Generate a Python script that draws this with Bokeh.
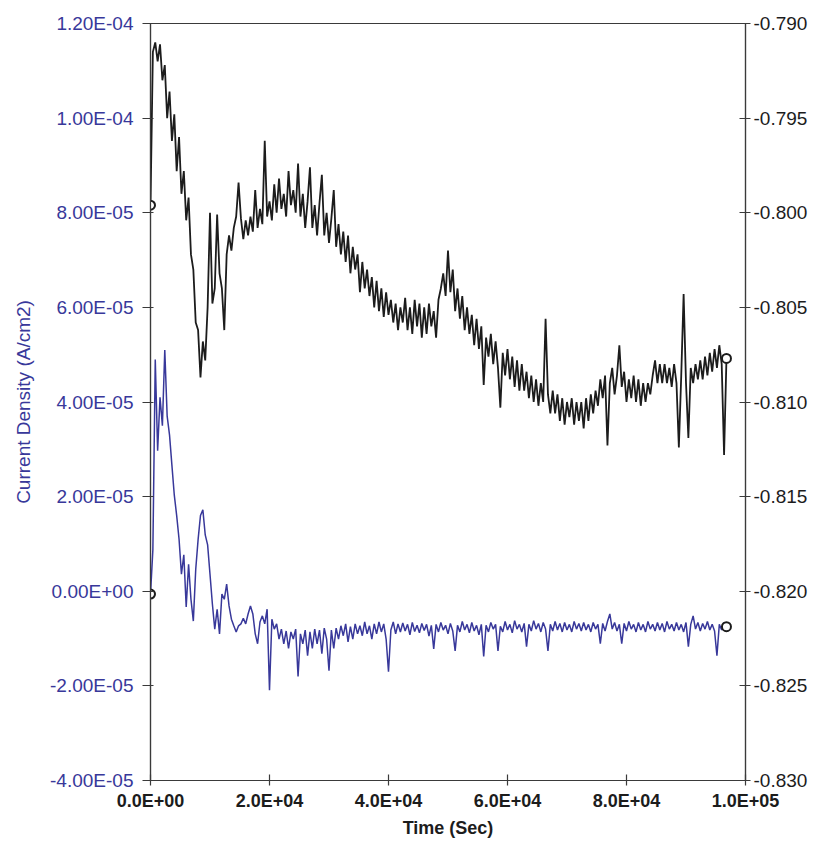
from bokeh.plotting import figure
from bokeh.models import Range1d, LinearAxis, FixedTicker
from bokeh.embed import file_html
from bokeh.resources import INLINE

# ---------------- data ----------------
time_s = [
    0, 400, 800, 1200, 1600, 2000, 2400, 2800, 3200, 3600,
    4000, 4400, 4800, 5200, 5600, 6000, 6400, 6800, 7200, 7600,
    8000, 8400, 8800, 9200, 9600, 10000, 10400, 10800, 11200, 11600,
    12000, 12400, 12800, 13200, 13600, 14000, 14400, 14800, 15200, 15600,
    16000, 16400, 16800, 17200, 17600, 18000, 18400, 18800, 19200, 19600,
    20000, 20400, 20800, 21200, 21600, 22000, 22400, 22800, 23200, 23600,
    24000, 24400, 24800, 25200, 25600, 26000, 26400, 26800, 27200, 27600,
    28000, 28400, 28800, 29200, 29600, 30000, 30400, 30800, 31200, 31600,
    32000, 32400, 32800, 33200, 33600, 34000, 34400, 34800, 35200, 35600,
    36000, 36400, 36800, 37200, 37600, 38000, 38400, 38800, 39200, 39600,
    40000, 40400, 40800, 41200, 41600, 42000, 42400, 42800, 43200, 43600,
    44000, 44400, 44800, 45200, 45600, 46000, 46400, 46800, 47200, 47600,
    48000, 48400, 48800, 49200, 49600, 50000, 50400, 50800, 51200, 51600,
    52000, 52400, 52800, 53200, 53600, 54000, 54400, 54800, 55200, 55600,
    56000, 56400, 56800, 57200, 57600, 58000, 58400, 58800, 59200, 59600,
    60000, 60400, 60800, 61200, 61600, 62000, 62400, 62800, 63200, 63600,
    64000, 64400, 64800, 65200, 65600, 66000, 66400, 66800, 67200, 67600,
    68000, 68400, 68800, 69200, 69600, 70000, 70400, 70800, 71200, 71600,
    72000, 72400, 72800, 73200, 73600, 74000, 74400, 74800, 75200, 75600,
    76000, 76400, 76800, 77200, 77600, 78000, 78400, 78800, 79200, 79600,
    80000, 80400, 80800, 81200, 81600, 82000, 82400, 82800, 83200, 83600,
    84000, 84400, 84800, 85200, 85600, 86000, 86400, 86800, 87200, 87600,
    88000, 88400, 88800, 89200, 89600, 90000, 90400, 90800, 91200, 91600,
    92000, 92400, 92800, 93200, 93600, 94000, 94400, 94800, 95200, 95600,
    96000, 96400, 96800,
]

# Potential (V), right axis
potential_v = [
    -0.7996, -0.7915, -0.7910, -0.7920, -0.7911, -0.7930, -0.7922, -0.7950, -0.7936, -0.7962,
    -0.7948, -0.7978, -0.7960, -0.7990, -0.7978, -0.8004, -0.7992, -0.8022, -0.8030, -0.8058,
    -0.8062, -0.8087, -0.8068, -0.8078, -0.8050, -0.8000, -0.8048, -0.8040, -0.8001, -0.8032,
    -0.8040, -0.8062, -0.8022, -0.8012, -0.8020, -0.8008, -0.8002, -0.7984, -0.8003, -0.8014,
    -0.8004, -0.8012, -0.8002, -0.8010, -0.7988, -0.8008, -0.7998, -0.8006, -0.7962, -0.8002,
    -0.7994, -0.8004, -0.7985, -0.8000, -0.7982, -0.7998, -0.7990, -0.8002, -0.7978, -0.7996,
    -0.7988, -0.8000, -0.7974, -0.8002, -0.7990, -0.8008, -0.7994, -0.7976, -0.8008, -0.7996,
    -0.8012, -0.7995, -0.7980, -0.8012, -0.8000, -0.8016, -0.8003, -0.7988, -0.8018, -0.8006,
    -0.8022, -0.8010, -0.8026, -0.8012, -0.8032, -0.8018, -0.8030, -0.8022, -0.8042, -0.8026,
    -0.8040, -0.8030, -0.8044, -0.8034, -0.8050, -0.8036, -0.8052, -0.8040, -0.8055, -0.8042,
    -0.8054, -0.8046, -0.8058, -0.8048, -0.8062, -0.8050, -0.8058, -0.8045, -0.8062, -0.8050,
    -0.8064, -0.8046, -0.8060, -0.8048, -0.8066, -0.8050, -0.8064, -0.8048, -0.8060, -0.8052,
    -0.8066, -0.8046, -0.8040, -0.8032, -0.8044, -0.8020, -0.8042, -0.8030, -0.8052, -0.8040,
    -0.8056, -0.8044, -0.8062, -0.8050, -0.8064, -0.8054, -0.8070, -0.8056, -0.8072, -0.8060,
    -0.8091, -0.8066, -0.8076, -0.8064, -0.8080, -0.8068, -0.8082, -0.8103, -0.8074, -0.8086,
    -0.8072, -0.8088, -0.8076, -0.8092, -0.8078, -0.8094, -0.8080, -0.8094, -0.8084, -0.8098,
    -0.8086, -0.8100, -0.8088, -0.8102, -0.8090, -0.8100, -0.8056, -0.8096, -0.8106, -0.8094,
    -0.8106, -0.8096, -0.8110, -0.8098, -0.8112, -0.8100, -0.8108, -0.8098, -0.8112, -0.8100,
    -0.8110, -0.8100, -0.8114, -0.8098, -0.8110, -0.8096, -0.8106, -0.8094, -0.8102, -0.8088,
    -0.8098, -0.8086, -0.8123, -0.8090, -0.8082, -0.8096, -0.8086, -0.8070, -0.8092, -0.8084,
    -0.8100, -0.8088, -0.8098, -0.8086, -0.8100, -0.8088, -0.8102, -0.8090, -0.8100, -0.8090,
    -0.8096, -0.8086, -0.8078, -0.8090, -0.8080, -0.8090, -0.8080, -0.8090, -0.8082, -0.8092,
    -0.8080, -0.8090, -0.8124, -0.8086, -0.8043, -0.8090, -0.8119, -0.8082, -0.8090, -0.8080,
    -0.8088, -0.8078, -0.8088, -0.8076, -0.8086, -0.8074, -0.8084, -0.8072, -0.8082, -0.8070,
    -0.8080, -0.8128, -0.8077,
]

# Current density (A/cm2), left axis
current_density = [
    -0.06e-5, 0.88e-5, 4.90e-5, 2.97e-5, 4.10e-5, 3.50e-5, 5.10e-5, 3.70e-5, 3.30e-5, 2.66e-5,
    2.03e-5, 1.60e-5, 1.10e-5, 0.36e-5, 0.77e-5, -0.33e-5, 0.57e-5, -0.17e-5, -0.63e-5, 0.46e-5,
    1.09e-5, 1.60e-5, 1.72e-5, 1.19e-5, 0.98e-5, 0.36e-5, -0.27e-5, -0.80e-5, -0.38e-5, -0.90e-5,
    -0.06e-5, -0.17e-5, 0.15e-5, -0.31e-5, -0.59e-5, -0.73e-5, -0.86e-5, -0.73e-5, -0.69e-5, -0.57e-5,
    -0.69e-5, -0.48e-5, -0.31e-5, -0.48e-5, -0.90e-5, -1.11e-5, -0.65e-5, -0.52e-5, -0.69e-5, -0.38e-5,
    -2.09e-5, -0.59e-5, -0.80e-5, -0.69e-5, -1.01e-5, -0.80e-5, -1.11e-5, -0.84e-5, -1.21e-5, -0.86e-5,
    -1.01e-5, -0.80e-5, -1.80e-5, -0.90e-5, -1.11e-5, -0.82e-5, -1.36e-5, -0.86e-5, -1.21e-5, -0.80e-5,
    -1.11e-5, -0.82e-5, -1.32e-5, -0.78e-5, -1.01e-5, -1.68e-5, -0.82e-5, -1.21e-5, -0.78e-5, -1.01e-5,
    -0.73e-5, -0.94e-5, -0.69e-5, -1.07e-5, -0.75e-5, -1.01e-5, -0.69e-5, -0.90e-5, -0.73e-5, -0.94e-5,
    -0.65e-5, -0.90e-5, -0.73e-5, -1.01e-5, -0.69e-5, -0.90e-5, -0.65e-5, -0.86e-5, -0.69e-5, -1.01e-5,
    -1.70e-5, -0.82e-5, -0.65e-5, -0.90e-5, -0.69e-5, -0.86e-5, -0.67e-5, -0.84e-5, -0.70e-5, -0.92e-5,
    -0.66e-5, -0.85e-5, -0.72e-5, -0.88e-5, -0.68e-5, -0.83e-5, -0.70e-5, -0.95e-5, -0.72e-5, -1.22e-5,
    -0.70e-5, -0.86e-5, -0.66e-5, -0.82e-5, -0.72e-5, -0.90e-5, -0.68e-5, -0.84e-5, -1.26e-5, -0.72e-5,
    -0.86e-5, -0.64e-5, -0.82e-5, -0.70e-5, -0.88e-5, -0.66e-5, -0.84e-5, -0.72e-5, -0.92e-5, -0.70e-5,
    -1.38e-5, -0.72e-5, -0.86e-5, -0.66e-5, -0.80e-5, -0.70e-5, -1.26e-5, -0.74e-5, -0.86e-5, -0.64e-5,
    -0.82e-5, -0.70e-5, -0.88e-5, -0.62e-5, -0.80e-5, -0.70e-5, -0.86e-5, -0.68e-5, -1.17e-5, -0.70e-5,
    -0.84e-5, -0.62e-5, -0.80e-5, -0.68e-5, -0.86e-5, -0.66e-5, -0.80e-5, -1.26e-5, -0.70e-5, -0.84e-5,
    -0.64e-5, -0.82e-5, -0.68e-5, -0.86e-5, -0.66e-5, -0.82e-5, -0.70e-5, -0.86e-5, -0.64e-5, -0.80e-5,
    -0.68e-5, -0.84e-5, -0.66e-5, -0.82e-5, -0.70e-5, -0.86e-5, -0.66e-5, -0.80e-5, -0.70e-5, -1.11e-5,
    -0.68e-5, -0.84e-5, -0.64e-5, -0.48e-5, -0.80e-5, -0.66e-5, -0.84e-5, -0.70e-5, -1.11e-5, -0.68e-5,
    -0.84e-5, -0.64e-5, -0.80e-5, -0.70e-5, -0.86e-5, -0.66e-5, -0.82e-5, -0.70e-5, -0.86e-5, -0.64e-5,
    -0.80e-5, -0.70e-5, -0.84e-5, -0.66e-5, -0.82e-5, -0.68e-5, -0.86e-5, -0.64e-5, -0.80e-5, -0.70e-5,
    -0.84e-5, -0.66e-5, -0.82e-5, -0.70e-5, -0.86e-5, -0.66e-5, -1.17e-5, -0.70e-5, -0.52e-5, -0.80e-5,
    -0.66e-5, -0.84e-5, -0.68e-5, -0.80e-5, -0.64e-5, -0.82e-5, -0.70e-5, -0.84e-5, -1.36e-5, -0.70e-5,
    -0.82e-5, -0.66e-5, -0.75e-5,
]

x_ticks = [0, 20000, 40000, 60000, 80000, 100000]
x_tick_labels = ["0.0E+00", "2.0E+04", "4.0E+04", "6.0E+04", "8.0E+04", "1.0E+05"]
left_ticks = [-4e-5, -2e-5, 0.0, 2e-5, 4e-5, 6e-5, 8e-5, 1e-4, 1.2e-4]
left_tick_labels = ["-4.00E-05", "-2.00E-05", "0.00E+00", "2.00E-05", "4.00E-05",
                    "6.00E-05", "8.00E-05", "1.00E-04", "1.20E-04"]
right_ticks = [-0.830, -0.825, -0.820, -0.815, -0.810, -0.805, -0.800, -0.795, -0.790]
right_tick_labels = ["-0.830", "-0.825", "-0.820", "-0.815", "-0.810", "-0.805",
                     "-0.800", "-0.795", "-0.790"]

x_label = "Time (Sec)"
left_label = "Current Density (A/cm2)"

# ---------------- styling ----------------
FONT = "Liberation Sans"
BLUE = "#38389a"
BLACK = "#1c1c1c"
AXIS = "#3a3a3a"

p = figure(width=810, height=840, output_backend="svg", toolbar_location=None,
           x_range=Range1d(0, 100000), y_range=Range1d(-4e-5, 1.2e-4),
           min_border_left=150, min_border_right=60, min_border_top=23, min_border_bottom=56)
p.extra_y_ranges = {"volt": Range1d(-0.830, -0.790)}

p.grid.visible = False
p.outline_line_color = AXIS
p.outline_line_width = 1.2
p.background_fill_color = "white"
p.border_fill_color = "white"

# x axis
xa = p.xaxis[0]
xa.ticker = FixedTicker(ticks=x_ticks)
xa.major_label_overrides = dict(zip(x_ticks, x_tick_labels))
xa.axis_label = x_label
xa.axis_label_text_font = FONT
xa.axis_label_text_font_size = "18px"
xa.axis_label_text_font_style = "bold"
xa.axis_label_text_color = BLACK
xa.axis_label_standoff = 4
xa.major_label_text_font = FONT
xa.major_label_text_font_size = "18px"
xa.major_label_text_font_style = "bold"
xa.major_label_text_color = BLACK
xa.major_label_standoff = 5
xa.major_tick_in = 6
xa.major_tick_out = 5
xa.minor_tick_line_color = None
xa.axis_line_color = AXIS
xa.axis_line_width = 1.2
xa.major_tick_line_color = AXIS
xa.major_tick_line_width = 1.2

# left axis
ya = p.yaxis[0]
ya.ticker = FixedTicker(ticks=left_ticks)
ya.major_label_overrides = dict(zip(left_ticks, left_tick_labels))
ya.axis_label = left_label
ya.axis_label_text_font = FONT
ya.axis_label_text_font_size = "19px"
ya.axis_label_text_font_style = "normal"
ya.axis_label_text_color = BLUE
ya.axis_label_standoff = 13
ya.major_label_text_font = FONT
ya.major_label_text_font_size = "19px"
ya.major_label_text_color = BLUE
ya.major_label_standoff = 9
ya.major_tick_in = 3
ya.major_tick_out = 8
ya.minor_tick_line_color = None
ya.axis_line_color = AXIS
ya.axis_line_width = 1.2
ya.major_tick_line_color = AXIS
ya.major_tick_line_width = 1.2

# right axis
ra = LinearAxis(y_range_name="volt", ticker=FixedTicker(ticks=right_ticks))
ra.major_label_overrides = dict(zip(right_ticks, right_tick_labels))
ra.major_label_text_font = FONT
ra.major_label_text_font_size = "19px"
ra.major_label_text_color = BLACK
ra.major_label_standoff = 3
ra.major_tick_in = 6
ra.major_tick_out = 5
ra.minor_tick_line_color = None
ra.axis_line_color = AXIS
ra.axis_line_width = 1.2
ra.major_tick_line_color = AXIS
ra.major_tick_line_width = 1.2
p.add_layout(ra, "right")

# series
p.line(time_s, current_density, line_color=BLUE, line_width=1.5)
p.line(time_s, potential_v, line_color=BLACK, line_width=1.8, y_range_name="volt")

# open circle markers at the start and end of each series
p.scatter([time_s[0], time_s[-1]], [current_density[0], current_density[-1]],
          marker="circle", size=9, line_color=BLACK, line_width=2, fill_color="white")
p.scatter([time_s[0], time_s[-1]], [potential_v[0], potential_v[-1]],
          marker="circle", size=9, line_color=BLACK, line_width=2, fill_color="white",
          y_range_name="volt")

open("out.html", "w").write(file_html(p, INLINE))
